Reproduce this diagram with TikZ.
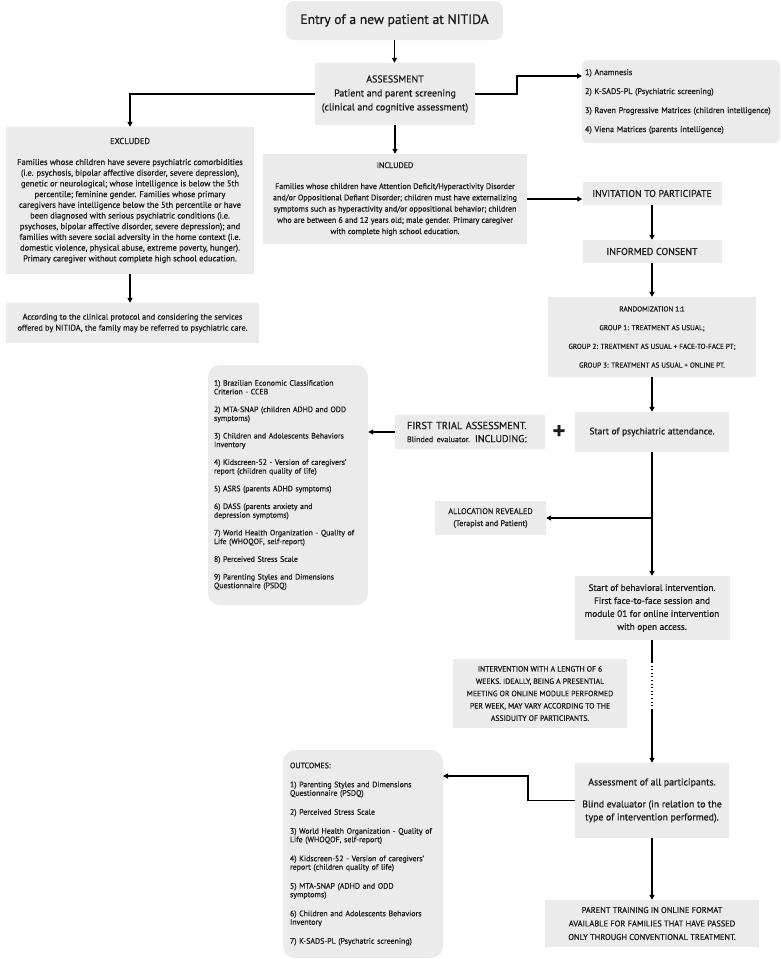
\documentclass[tikz,border=0pt]{standalone}
\usepackage{fontspec}
\setmainfont{PT Sans}[FakeBold=0.7]
\usetikzlibrary{arrows.meta,calc}
\definecolor{boxgray}{RGB}{235,235,235}
\definecolor{txt}{RGB}{28,28,28}
\begin{document}
\begin{tikzpicture}[x=1pt,y=-1pt,
  box/.style={fill=boxgray, inner sep=0pt, text=txt, align=center},
  arr/.style={draw=black, line width=1.3pt, -{Triangle[length=5pt,width=5pt]}},
  ln/.style={draw=black, line width=1.3pt},
  dotln/.style={draw=black, line width=1.1pt, dash pattern=on 1pt off 2.6pt},
]
\useasboundingbox[fill=white] (0,0) rectangle (781,959);

% top
\node[box, rounded corners=8pt, minimum width=217pt, minimum height=39pt,
  font=\fontsize{13.6}{15}\selectfont] (entry) at (394.5,20.5) {Entry of a new patient at NITIDA};
\node[box, minimum width=160pt, minimum height=62pt,
  font=\fontsize{9.9}{14}\selectfont] (assess) at (395,94)
  {ASSESSMENT\\Patient and parent screening\\(clinical and cognitive assessment)};
\node[box, rounded corners=6pt, minimum width=198pt, minimum height=83pt, text width=192pt, align=left,
  font=\fontsize{8.2}{19}\selectfont] (list1) at (681,101.5)
  {1) Anamnesis\\2) K-SADS-PL (Psychiatric screening)\\3) Raven Progressive Matrices (children intelligence)\\4) Viena Matrices (parents intelligence)};

% excluded
\node[box, minimum width=248pt, minimum height=147pt,
  font=\fontsize{8.5}{10.7}\selectfont] (excl) at (130,200.5)
  {EXCLUDED\\[10.3pt]
  Families whose children have severe psychiatric comorbidities\\
  (i.e. psychosis, bipolar affective disorder, severe depression),\\
  genetic or neurological; whose intelligence is below the 5th\\
  percentile; feminine gender. Families whose primary\\
  caregivers have intelligence below the 5th percentile or have\\
  been diagnosed with serious psychiatric conditions (i.e.\\
  psychoses, bipolar affective disorder, severe depression); and\\
  families with severe social adversity in the home context (i.e.\\
  domestic violence, physical abuse, extreme poverty, hunger).\\
  Primary caregiver without complete high school education.};
\node[box, minimum width=253pt, minimum height=40pt,
  font=\fontsize{8.3}{11}\selectfont] (refer) at (132.5,323)
  {According to the clinical protocol and considering the services\\
  offered by NITIDA, the family may be referred to psychiatric care.};

% included
\node[box, minimum width=264pt, minimum height=90pt,
  font=\fontsize{8.05}{11.25}\selectfont] (incl) at (395,199)
  {INCLUDED\\[9.75pt]
  Families whose children have Attention Deficit/Hyperactivity Disorder\\
  and/or Oppositional Defiant Disorder; children must have externalizing\\
  symptoms such as hyperactivity and/or oppositional behavior; children\\
  who are between 6 and 12 years old; male gender. Primary caregiver\\
  with complete high school education.};

% right column
\node[box, minimum width=139pt, minimum height=23pt,
  font=\fontsize{9.8}{11}\selectfont] (invite) at (652,193.5) {INVITATION TO PARTICIPATE};
\node[box, minimum width=139pt, minimum height=23pt,
  font=\fontsize{9.9}{11}\selectfont] (consent) at (652,251.5) {INFORMED CONSENT};
\node[box, minimum width=208pt, minimum height=80pt,
  font=\fontsize{7.2}{18.7}\selectfont] (random) at (652,337)
  {RANDOMIZATION 1:1\\GROUP 1: TREATMENT AS USUAL;\\GROUP 2: TREATMENT AS USUAL + FACE-TO-FACE PT;\\GROUP 3: TREATMENT AS USUAL + ONLINE PT.};
\node[box, minimum width=154pt, minimum height=40pt,
  font=\fontsize{9.45}{13}\selectfont] (psych) at (652,432) {Start of psychiatric attendance.};
\node[box, minimum width=150pt, minimum height=34pt, text width=126pt, align=left,
  font=\fontsize{10.3}{13}\selectfont] (first) at (470,432)
  {FIRST TRIAL ASSESSMENT.\\{\fontsize{8}{13}\selectfont Blinded evaluator.} {\fontsize{10}{13}\selectfont INCLUDING:}};
\node[inner sep=0pt, text=txt, font=\fontsize{24}{24}\selectfont\bfseries] (plus) at (559,432) {+};

% list 2
\node[box, rounded corners=12pt, minimum width=160pt, minimum height=240pt, text width=148pt, align=left,
  font=\fontsize{7.8}{8.7}\selectfont] (list2) at (288,485)
  {1) Brazilian Economic Classification\\Criterion - CCEB\\[9pt]
   2) MTA-SNAP (children ADHD and ODD\\symptoms)\\[9pt]
   3) Children and Adolescents Behaviors\\Inventory\\[9pt]
   4) Kidscreen-52 - Version of caregivers'\\report (children quality of life)\\[9pt]
   5) ASRS (parents ADHD symptoms)\\[9pt]
   6) DASS (parents anxiety and\\depression symptoms)\\[9pt]
   7) World Health Organization - Quality of\\Life (WHOQOF, self-report)\\[9pt]
   8) Perceived Stress Scale\\[9pt]
   9) Parenting Styles and Dimensions\\Questionnaire (PSDQ)};

\node[box, minimum width=111pt, minimum height=34pt,
  font=\fontsize{8.2}{12}\selectfont] (alloc) at (490.5,518)
  {ALLOCATION REVEALED\\(Terapist and Patient)};
\node[box, minimum width=155pt, minimum height=64pt,
  font=\fontsize{9.3}{13}\selectfont] (behav) at (652,608)
  {Start of behavioral intervention.\\First face-to-face session and\\module 01 for online intervention\\with open access.};
\node[box, minimum width=174pt, minimum height=69pt,
  font=\fontsize{7.7}{12.3}\selectfont] (interv) at (540,693.5)
  {INTERVENTION WITH A LENGTH OF 6\\WEEKS. IDEALLY, BEING A PRESENTIAL\\MEETING OR ONLINE MODULE PERFORMED\\PER WEEK, MAY VARY ACCORDING TO THE\\ASSIDUITY OF PARTICIPANTS.};
\node[box, minimum width=154pt, minimum height=75pt,
  font=\fontsize{9.8}{13}\selectfont] (assessall) at (652,800.5)
  {Assessment of all participants.\\[9pt]Blind evaluator (in relation to the\\type of intervention performed).};
\node[box, rounded corners=12pt, minimum width=160pt, minimum height=208pt, text width=146pt, align=left,
  font=\fontsize{7.9}{8.5}\selectfont] (outc) at (363,854)
  {OUTCOMES:\\[10.5pt]
   1) Parenting Styles and Dimensions\\Questionnaire (PSDQ)\\[10.5pt]
   2) Perceived Stress Scale\\[10.5pt]
   3) World Health Organization - Quality of\\Life (WHOQOF, self-report)\\[10.5pt]
   4) Kidscreen-52 - Version of caregivers'\\report (children quality of life)\\[10.5pt]
   5) MTA-SNAP (ADHD and ODD\\symptoms)\\[10.5pt]
   6) Children and Adolescents Behaviors\\Inventory\\[10.5pt]
   7) K-SADS-PL (Psychatric screening)};
\node[box, minimum width=214pt, minimum height=47pt,
  font=\fontsize{8.4}{13.5}\selectfont] (parent) at (652,923.5)
  {PARENT TRAINING IN ONLINE FORMAT\\AVAILABLE FOR FAMILIES THAT HAVE PASSED\\ONLY THROUGH CONVENTIONAL TREATMENT.};

% helper coordinates
\coordinate (k1) at (517,94);
\coordinate (l1in) at (582,76);
\coordinate (d1) at (652,662);
\coordinate (d2) at (652,710);
\coordinate (k2) at (528,776);
\coordinate (o1) at (443,776);

% connectors
\draw[arr] (entry.south) -- (entry.south |- assess.north);
\draw[arr] (assess.west) -| (excl.north);
\draw[arr] (assess.east) -- (k1) |- (l1in);
\draw[arr] (assess.south) -- (incl.north);
\draw[arr] (excl.south) -- (excl.south |- refer.north);
\draw[arr] (incl.east) -- (incl.east -| invite.west);
\draw[arr] (invite.south) -- (consent.north);
\draw[arr] (consent.south) -- (random.north);
\draw[arr] (random.south) -- (psych.north);
\draw[arr] (first.west) -- (first.west -| list2.east);
\draw[arr] (psych.south) -- (behav.north);
\draw[arr] (psych.south |- alloc.east) -- (alloc.east);
\draw[ln] (behav.south) -- (d1);
\draw[dotln] (d1) -- (d2);
\draw[arr] (d2) -- (assessall.north);
\draw[arr] (assessall.west) -- (assessall.west -| k2) |- (o1);
\draw[arr] (assessall.south) -- (parent.north);
\end{tikzpicture}
\end{document}
